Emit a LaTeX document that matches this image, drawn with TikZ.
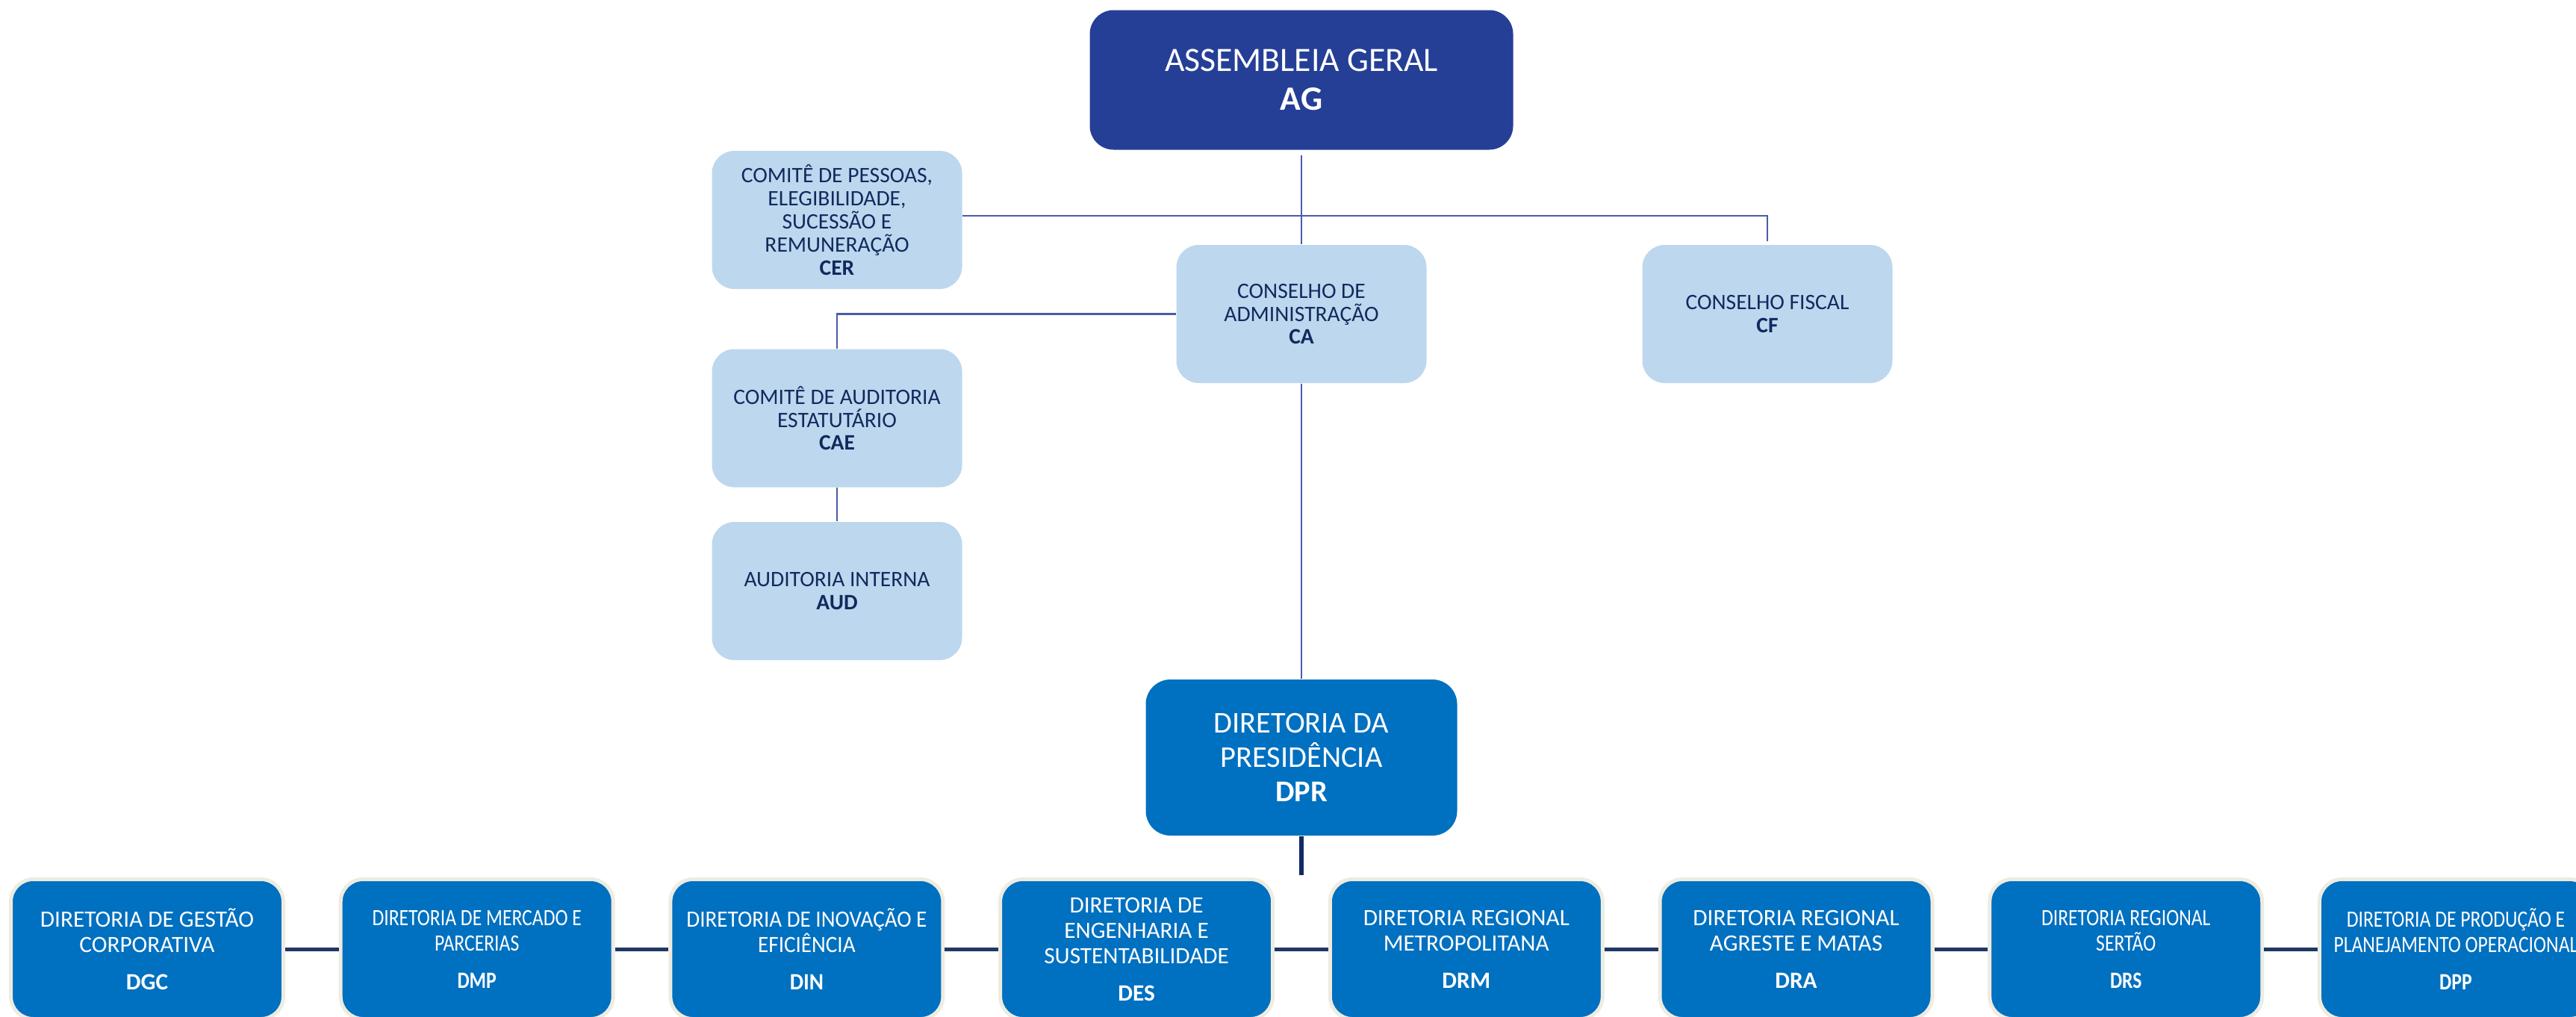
\documentclass[tikz,border=0pt]{standalone}
\usepackage{fontspec}
\setmainfont{Carlito}
\newfontfamily\narrowfont{Carlito}[FakeStretch=0.82]
\newfontfamily\slimfont{Carlito}[FakeStretch=0.93]
\usetikzlibrary{positioning}

\definecolor{agblue}{HTML}{253F97}
\definecolor{lightbox}{HTML}{BDD7EE}
\definecolor{navytext}{HTML}{12295E}
\definecolor{dirblue}{HTML}{0070C0}
\definecolor{cream}{HTML}{EEECE1}
\definecolor{linkblue}{HTML}{4A5CA8}
\definecolor{chainnavy}{HTML}{1F3864}
\definecolor{trunknavy}{HTML}{122B66}

\tikzstyle{assembly} = [rectangle, rounded corners=0.32cm, minimum width=5.67cm, minimum height=1.87cm, inner sep=0pt, align=center, fill=agblue, text=white, font=\fontsize{13}{14.8}\selectfont]
\tikzstyle{council} = [rectangle, rounded corners=0.3cm, minimum width=3.35cm, minimum height=1.85cm, inner sep=0pt, align=center, fill=lightbox, text=navytext, font=\fontsize{8.4}{8.8}\selectfont]
\tikzstyle{presidency} = [rectangle, rounded corners=0.33cm, minimum width=4.17cm, minimum height=2.09cm, inner sep=0pt, align=center, fill=dirblue, text=white, font=\fontsize{11.5}{13.1}\selectfont]
\tikzstyle{directorate} = [rectangle, rounded corners=0.3cm, minimum width=3.65cm, minimum height=1.87cm, inner sep=0pt, align=center, fill=dirblue, draw=cream, line width=0.05cm, text=white, font=\fontsize{8.9}{9.7}\selectfont]
\tikzstyle{narrow} = [font=\narrowfont\fontsize{8.9}{9.7}\selectfont]
\tikzstyle{slim} = [font=\slimfont\fontsize{8.9}{9.7}\selectfont]
\tikzstyle{link} = [draw=linkblue, line width=0.6pt]
\tikzstyle{chain} = [draw=chainnavy, line width=0.05cm]
\tikzstyle{trunk} = [draw=trunknavy, line width=0.06cm]

\begin{document}
\begin{tikzpicture}[node distance=4.417cm]
    \useasboundingbox (0,0) rectangle (34.5,-13.61);
    \clip (0,0) rectangle (34.5,-13.61);

    \node (ag) [assembly] at (17.43,-1.07) {ASSEMBLEIA GERAL\\\textbf{AG}};

    \node (cer) [council] at (11.21,-2.945) {COMITÊ DE PESSOAS,\\ELEGIBILIDADE,\\SUCESSÃO E\\REMUNERAÇÃO\\\textbf{CER}};
    \node (ca) [council] at (17.43,-4.205) {CONSELHO DE\\ADMINISTRAÇÃO\\\textbf{CA}};
    \node (cf) [council] at (23.67,-4.205) {CONSELHO FISCAL\\\textbf{CF}};
    \node (cae) [council] at (11.21,-5.60) {COMITÊ DE AUDITORIA\\ESTATUTÁRIO\\\textbf{CAE}};
    \node (aud) [council] at (11.21,-7.915) {AUDITORIA INTERNA\\\textbf{AUD}};

    \node (dpr) [presidency] at (17.43,-10.145) {DIRETORIA DA\\PRESIDÊNCIA\\\textbf{DPR}};

    \node (dgc) [directorate] at (1.97,-12.71) {DIRETORIA DE GESTÃO\\CORPORATIVA\\[4.5pt]\textbf{DGC}};
    \node (dmp) [directorate, narrow, right of=dgc] {DIRETORIA DE MERCADO E\\PARCERIAS\\[4.5pt]\textbf{DMP}};
    \node (din) [directorate, slim, right of=dmp] {DIRETORIA DE INOVAÇÃO E\\EFICIÊNCIA\\[4.5pt]\textbf{DIN}};
    \node (des) [directorate, right of=din] {DIRETORIA DE\\ENGENHARIA E\\SUSTENTABILIDADE\\[4.5pt]\textbf{DES}};
    \node (drm) [directorate, right of=des] {DIRETORIA REGIONAL\\METROPOLITANA\\[4.5pt]\textbf{DRM}};
    \node (dra) [directorate, right of=drm] {DIRETORIA REGIONAL\\AGRESTE E MATAS\\[4.5pt]\textbf{DRA}};
    \node (drs) [directorate, narrow, right of=dra] {DIRETORIA REGIONAL\\SERTÃO\\[4.5pt]\textbf{DRS}};
    \node (dpp) [directorate, narrow, right of=drs] {DIRETORIA DE PRODUÇÃO E\\PLANEJAMENTO OPERACIONAL\\[4.5pt]\textbf{DPP}};

    \draw [link, shorten <=0.07cm] (ag) -- (ca);
    \draw [link, shorten >=0.04cm] ([yshift=0.055cm]cer.east) -| (cf.north);
    \draw [link] (ca.west) -| (cae.north);
    \draw [link] (cae) -- (aud);
    \draw [link] (ca) -- (dpr);

    \coordinate [below=0.52cm of dpr.south] (split);
    \draw [trunk] (dpr.south) -- (split);

    \draw [chain] (dgc) -- (dmp);
    \draw [chain] (dmp) -- (din);
    \draw [chain] (din) -- (des);
    \draw [chain] (des) -- (drm);
    \draw [chain] (drm) -- (dra);
    \draw [chain] (dra) -- (drs);
    \draw [chain] (drs) -- (dpp);
\end{tikzpicture}
\end{document}
